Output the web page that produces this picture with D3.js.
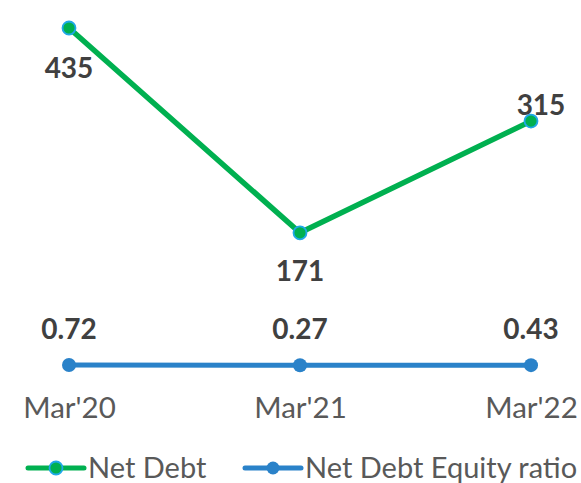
<!DOCTYPE html>
<html>
<head>
<meta charset="utf-8">
<script src="https://cdn.jsdelivr.net/npm/d3@7"></script>
<style>
  html, body { margin: 0; padding: 0; background: #fff; }
  svg { display: block; }
</style>
</head>
<body>
<svg id="chart" width="581" height="483"></svg>
<script>
const categories = ["Mar'20", "Mar'21", "Mar'22"];
const netDebt = [435, 171, 315];
const netDebtEquity = [0.72, 0.27, 0.43];
const netDebtLabels = ["435", "171", "315"];
const ratioLabels = ["0.72", "0.27", "0.43"];
const seriesNames = ["Net Debt", "Net Debt Equity ratio"];

const FONT = "Lato, 'Open Sans', sans-serif";
const GREEN = "#00B050";
const GREEN_STROKE = "#1FA8E8";
const BLUE = "#2A82C9";

const svg = d3.select("#chart");

const x = d3.scalePoint().domain(categories).range([69, 531]);
const y = d3.scaleLinear().domain([0, 435]).range([365.5, 28]);

const line = d3.line()
  .x(d => x(d.cat))
  .y(d => y(d.v));

const ndData = categories.map((c, i) => ({ cat: c, v: netDebt[i], label: netDebtLabels[i] }));
const rData = categories.map((c, i) => ({ cat: c, v: netDebtEquity[i], label: ratioLabels[i] }));

// Ratio line
svg.append("path").datum(rData)
  .attr("d", line)
  .attr("fill", "none")
  .attr("stroke", BLUE)
  .attr("stroke-width", 5);
svg.selectAll("circle.r").data(rData).enter().append("circle")
  .attr("class", "r")
  .attr("cx", d => x(d.cat)).attr("cy", d => y(d.v)).attr("r", 7)
  .attr("fill", BLUE);

// Net debt line
svg.append("path").datum(ndData)
  .attr("d", line)
  .attr("fill", "none")
  .attr("stroke", GREEN)
  .attr("stroke-width", 5.5);
svg.selectAll("circle.nd").data(ndData).enter().append("circle")
  .attr("class", "nd")
  .attr("cx", d => x(d.cat)).attr("cy", d => y(d.v)).attr("r", 6.5)
  .attr("fill", GREEN)
  .attr("stroke", GREEN_STROKE)
  .attr("stroke-width", 1.8);

// Net debt labels: below for first two, above for last
const ndOffsets = [{dx: 0, dy: 50}, {dx: 0, dy: 48}, {dx: 10, dy: -6}];
svg.selectAll("text.ndl").data(ndData).enter().append("text")
  .attr("class", "ndl")
  .attr("x", (d, i) => x(d.cat) + ndOffsets[i].dx)
  .attr("y", (d, i) => y(d.v) + ndOffsets[i].dy)
  .attr("text-anchor", "middle")
  .attr("font-family", FONT)
  .attr("font-weight", "bold")
  .attr("font-size", 28)
  .attr("fill", "#404040")
  .text(d => d.label);

// Ratio labels above
svg.selectAll("text.rl").data(rData).enter().append("text")
  .attr("class", "rl")
  .attr("x", d => x(d.cat))
  .attr("y", d => y(d.v) - 26)
  .attr("text-anchor", "middle")
  .attr("font-family", FONT)
  .attr("font-weight", "bold")
  .attr("font-size", 28)
  .attr("fill", "#404040")
  .text(d => d.label);

// X axis (no line, no ticks)
const axis = svg.append("g")
  .attr("transform", "translate(0,390)")
  .call(d3.axisBottom(x).tickSize(0).tickPadding(0));
axis.select(".domain").remove();
axis.selectAll("text")
  .attr("dy", 0)
  .attr("y", 28)
  .attr("font-family", FONT)
  .attr("font-size", 29.5)
  .attr("fill", "#595959");

// Legend
const legend = [
  { name: seriesNames[0], color: GREEN, stroke: GREEN_STROKE, x0: 28 },
  { name: seriesNames[1], color: BLUE, stroke: null, x0: 245 }
];
const lg = svg.append("g").attr("class", "legend");
legend.forEach(l => {
  const g = lg.append("g").attr("transform", `translate(${l.x0},468)`);
  g.append("line").attr("x1", 0).attr("x2", 56).attr("y1", 0).attr("y2", 0)
    .attr("stroke", l.color).attr("stroke-width", 5).attr("stroke-linecap", "round");
  g.append("circle").attr("cx", 28).attr("cy", 0).attr("r", 6.5)
    .attr("fill", l.color)
    .attr("stroke", l.stroke || "none").attr("stroke-width", 1.8);
  g.append("text").attr("x", 60).attr("y", 10)
    .attr("font-family", FONT).attr("font-size", 29)
    .attr("fill", "#595959")
    .text(l.name);
});
</script>
</body>
</html>
